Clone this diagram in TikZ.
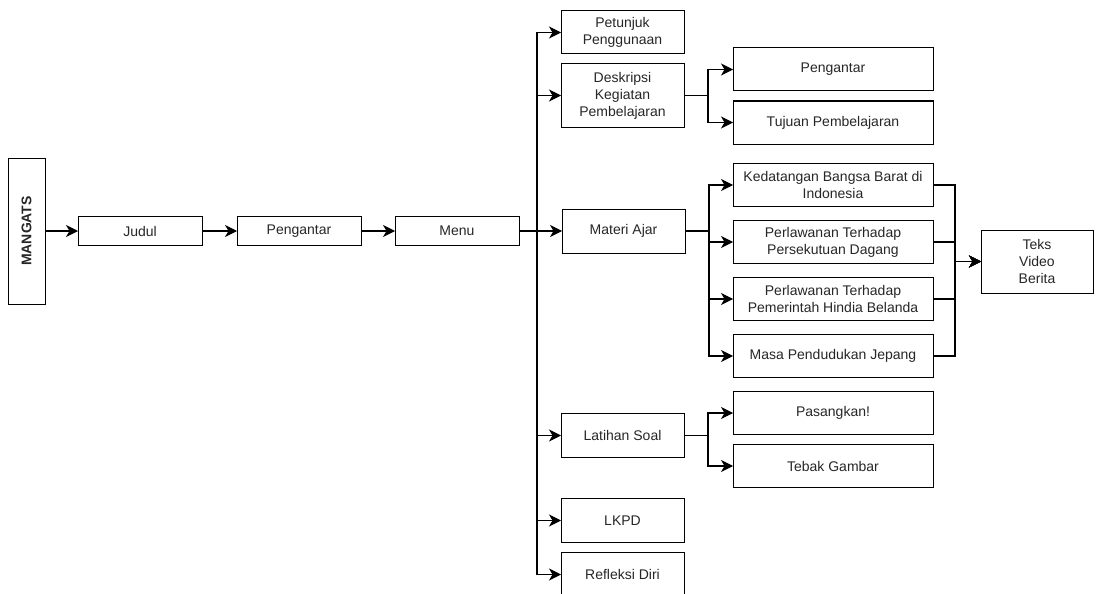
\documentclass[tikz,border=0pt]{standalone}
\usepackage{fontspec}
\setmainfont{Liberation Sans}
\usetikzlibrary{positioning,arrows.meta}

\begin{document}
\begin{tikzpicture}[
		x=1pt, y=-1pt,
		every node/.style={
			draw,
			line width=1pt,
			outer sep=0pt,
			align=center,
			inner sep=2pt,
			text=black!85,
			font=\fontsize{14}{17}\selectfont
		},
		box/.style={minimum width=123pt, minimum height=44pt},
		row/.style={minimum width=124pt, minimum height=29pt},
		wide/.style={minimum width=200pt, minimum height=43pt},
		arr/.style={line width=1.1pt, -{Stealth[length=12pt,width=12pt,inset=3.5pt]}}
		]
		
		\useasboundingbox (0,0) rectangle (1101,594);
		
		\node[minimum width=37pt, minimum height=146pt] (mangats) at (26.5,231)
		{\rotatebox{90}{\textbf{MANGATS}}};
		
		\node[row,right=33pt of mangats] (judul)
		{Judul};
		
		\node[row,right=35pt of judul] (pengantar)
		{Pengantar};
		
		\node[row,right=34pt of pengantar] (menu)
		{Menu};
		
		\node[box,minimum height=43pt] (petunjuk) at (622.5,32.5)
		{Petunjuk\\Penggunaan};
		
		\node[box,minimum height=63pt,below=10pt of petunjuk] (deskripsi)
		{Deskripsi\\Kegiatan\\Pembelajaran};
		
		\node[box,right=43pt of menu] (materi)
		{Materi Ajar};
		
		\node[box] (latihan) at (622.5,435.5)
		{Latihan Soal};
		
		\node[box,below=41pt of latihan] (lkpd)
		{LKPD};
		
		\node[box,below=10pt of lkpd] (refleksi)
		{Refleksi Diri};
		
		\node[wide] (pengantarb) at (833,69.5)
		{Pengantar};
		
		\node[wide,below=10pt of pengantarb] (tujuan)
		{Tujuan Pembelajaran};
		
		\node[wide] (kedatangan) at (833,185)
		{Kedatangan Bangsa Barat di\\Indonesia};
		
		\node[wide,below=14pt of kedatangan] (persekutuan)
		{Perlawanan Terhadap\\Persekutuan Dagang};
		
		\node[wide,below=14pt of persekutuan] (pemerintah)
		{Perlawanan Terhadap\\Pemerintah Hindia Belanda};
		
		\node[wide,below=14pt of pemerintah] (jepang)
		{Masa Pendudukan Jepang};
		
		\node[wide,below=14pt of jepang] (pasangkan)
		{Pasangkan!};
		
		\node[wide,below=10pt of pasangkan] (tebak)
		{Tebak Gambar};
		
		\node[minimum width=112pt, minimum height=63pt] (teks) at (1037,261.5)
		{Teks\\Video\\Berita};
		
		\draw[arr] (mangats) -- (judul);
		\draw[arr] (judul) -- (pengantar);
		\draw[arr] (pengantar) -- (menu);
		
		\draw[arr] (menu.east) -- ++(18pt,0) |- (petunjuk.west);
		\draw[arr] (menu.east) -- ++(18pt,0) |- (deskripsi.west);
		\draw[arr] (menu.east) -- (materi.west);
		\draw[arr] (menu.east) -- ++(18pt,0) |- (latihan.west);
		\draw[arr] (menu.east) -- ++(18pt,0) |- (lkpd.west);
		\draw[arr] (menu.east) -- ++(18pt,0) |- (refleksi.west);
		
		\draw[arr] (deskripsi.east) -- ++(24pt,0) |- (pengantarb.west);
		\draw[arr] (deskripsi.east) -- ++(24pt,0) |- (tujuan.west);
		
		\draw[arr] (materi.east) -- ++(24pt,0) |- (kedatangan.west);
		\draw[arr] (materi.east) -- ++(24pt,0) |- (persekutuan.west);
		\draw[arr] (materi.east) -- ++(24pt,0) |- (pemerintah.west);
		\draw[arr] (materi.east) -- ++(24pt,0) |- (jepang.west);
		
		\draw[arr] (latihan.east) -- ++(24pt,0) |- (pasangkan.west);
		\draw[arr] (latihan.east) -- ++(24pt,0) |- (tebak.west);
		
		\draw[arr] (kedatangan.east) -- ++(22pt,0) |- (teks.west);
		\draw[arr] (persekutuan.east) -- ++(22pt,0) |- (teks.west);
		\draw[arr] (pemerintah.east) -- ++(22pt,0) |- (teks.west);
		\draw[arr] (jepang.east) -- ++(22pt,0) |- (teks.west);
		
	\end{tikzpicture}
\end{document}
